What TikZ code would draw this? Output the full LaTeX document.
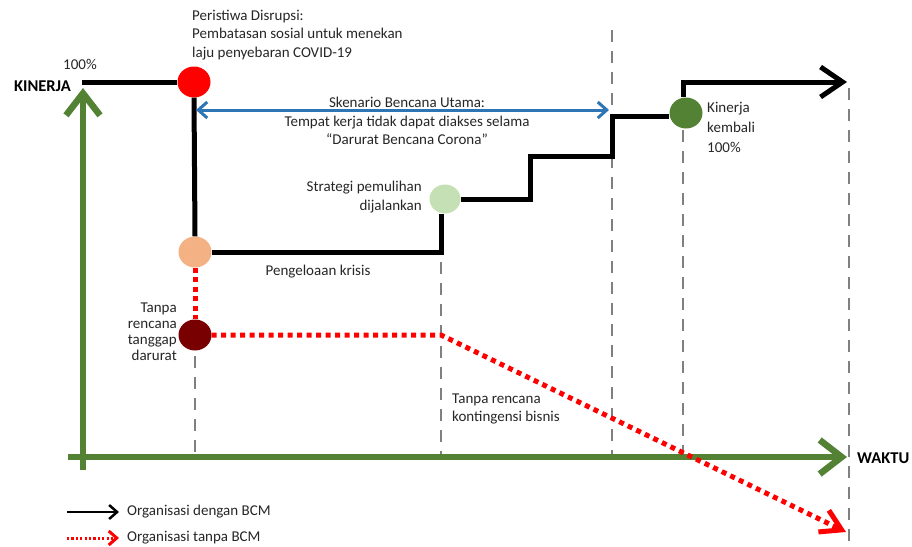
\documentclass[tikz,border=0pt]{standalone}
\usepackage{fontspec}
\setmainfont{Carlito}
\usetikzlibrary{arrows.meta,shapes.geometric}
\definecolor{axgreen}{RGB}{84,130,53}
\definecolor{dotred}{RGB}{255,0,0}
\definecolor{darkred}{RGB}{120,0,0}
\definecolor{lgreen}{RGB}{197,224,180}
\definecolor{orangec}{RGB}{244,177,131}
\definecolor{bluearr}{RGB}{46,117,182}
\definecolor{greyd}{RGB}{128,128,128}
\tikzset{
  guide/.style={draw=greyd, line width=2.8pt, dash pattern=on 12pt off 9pt},
  axis/.style={draw=axgreen, line width=6.5pt, -{Straight Barb[length=22pt,width=34pt]}},
  withbcm/.style={draw=black, line width=5pt},
  nobcm/.style={draw=dotred, line width=5pt, dash pattern=on 5pt off 4.5pt},
  dot/.style={ellipse, minimum width=33pt, minimum height=31pt, inner sep=0pt},
  lbl/.style={font=\fontsize{15}{18.5}\selectfont, inner sep=0pt, text=black!85},
  bold/.style={font=\fontsize{16.5}{18}\selectfont\bfseries, inner sep=0pt},
}
\begin{document}
\begin{tikzpicture}[x=1pt,y=-1pt]
\useasboundingbox (0,0) rectangle (912,546);
% event markers
\node[dot, fill=red] (red) at (194,82) {};
\node[dot, fill=orangec] (orange) at (195,252) {};
\node[dot, fill=darkred] (dred) at (195,335) {};
\node[dot, fill=lgreen, minimum width=31pt, minimum height=29pt] (lgr) at (445,199) {};
\node[dot, fill=axgreen] (grn) at (686,113) {};
% guide coordinates
\coordinate (g1t) at (195,356); \coordinate (g1b) at (195,460);
\coordinate (g2t) at (441,262); \coordinate (g2b) at (441,460);
\coordinate (g3t) at (612,30);  \coordinate (g3b) at (612,460);
\coordinate (g4t) at (683,130); \coordinate (g4b) at (683,460);
\coordinate (g5t) at (849,88);  \coordinate (g5b) at (849,546);
\draw[guide] (g1t) -- (g1b);
\draw[guide] (g2t) -- (g2b);
\draw[guide] (g3t) -- (g3b);
\draw[guide] (g4t) -- (g4b);
\draw[guide] (g5t) -- (g5b);
% axes
\coordinate (yaxb) at (83,470); \coordinate (yaxt) at (83,88);
\coordinate (xaxl) at (68,457); \coordinate (xaxr) at (847,457);
\draw[axis] (yaxb) -- (yaxt);
\draw[axis] (xaxl) -- (xaxr);
% without BCM
\coordinate (r1) at (441,335); \coordinate (rend) at (846,532);
\draw[nobcm] (orange.south) -- (dred.north);
\draw[nobcm, -{Straight Barb[length=20pt,width=24pt]}] (dred.east) -- (r1) -- (rend);
% with BCM
\coordinate (k0) at (82,82);
\coordinate (c1) at (441,251);
\coordinate (s1) at (530,197); \coordinate (s2) at (530,156);
\coordinate (s3) at (612,156); \coordinate (s4) at (612,116);
\coordinate (t1) at (683,82); \coordinate (t2) at (847,82);
\draw[withbcm] (k0) -- (red.west);
\draw[withbcm] (red.south) -- (orange.north);
\draw[withbcm] (orange.east) -- (orange.east -| c1) -- (lgr.south -| c1) ;
\draw[withbcm] (lgr.east) -- (lgr.east -| s1) -- (s2) -- (s3) -- (s4) -- (s4 -| grn.west);
\draw[withbcm, -{Straight Barb[length=22pt,width=30pt]}] (grn.north -| t1) -- (t1) -- (t2);
% scenario span
\coordinate (b1) at (196,110); \coordinate (b2) at (609,110);
\draw[bluearr, line width=3pt, {Straight Barb[length=9pt,width=16pt]}-{Straight Barb[length=9pt,width=16pt]}] (b1) -- (b2);
% texts
\node[lbl, anchor=west, align=left] (tdis) at (192,35) {Peristiwa Disrupsi:\\Pembatasan sosial untuk menekan\\laju penyebaran COVID-19};
\node[lbl] (t100) at (80,64) {100\%};
\node[bold, anchor=east] (tkin) at (71,86) {KINERJA};
\node[bold, anchor=west] (twak) at (857,458) {WAKTU};
\node[lbl, align=center] (tsk) at (407,121) {Skenario Bencana Utama:\\Tempat kerja tidak dapat diakses selama\\“Darurat Bencana Corona”};
\node[lbl, align=right, anchor=east] (tstr) at (422,197) {Strategi pemulihan\\dijalankan};
\node[lbl] (tpk) at (318,272) {Pengeloaan krisis};
\node[lbl, align=right, anchor=east, font=\fontsize{15}{16}\selectfont] (ttan) at (177,332) {Tanpa\\rencana\\tanggap\\darurat};
\node[lbl, align=left, anchor=west] (tkon) at (452,409) {Tanpa rencana\\kontingensi bisnis};
\node[lbl, align=left, anchor=west, font=\fontsize{15}{20}\selectfont] (tkem) at (707,127) {Kinerja\\kembali\\100\%};
% legend
\coordinate (l1a) at (67,512); \coordinate (l1b) at (119,512);
\coordinate (l2a) at (67,538); \coordinate (l2b) at (119,538);
\draw[black, line width=2.5pt, -{Straight Barb[length=8pt,width=14pt]}] (l1a) -- (l1b);
\draw[dotred, line width=3pt, dash pattern=on 2.2pt off 2.2pt, -{Straight Barb[length=8pt,width=14pt]}] (l2a) -- (l2b);
\node[lbl, anchor=west] (leg1) at (127,512) {Organisasi dengan BCM};
\node[lbl, anchor=west] (leg2) at (127,538) {Organisasi tanpa BCM};
\end{tikzpicture}
\end{document}
